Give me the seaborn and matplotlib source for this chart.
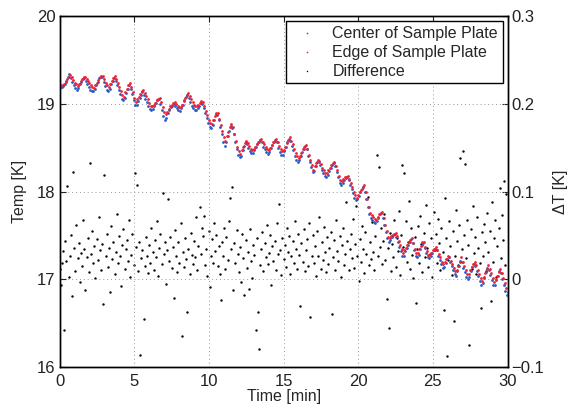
import numpy as np
import pandas as pd
import matplotlib
matplotlib.use("Agg")
import matplotlib.pyplot as plt
import seaborn as sns

# Nhiệt độ mép tấm mẫu (mỗi 0.1 phút, 0 -> 30 phút)
edge_temp = [
    19.20, 19.21, 19.21, 19.22, 19.25, 19.28, 19.31, 19.33, 19.30, 19.27,
    19.24, 19.22, 19.20, 19.23, 19.26, 19.28, 19.30, 19.31, 19.28, 19.26,
    19.24, 19.21, 19.19, 19.18, 19.21, 19.24, 19.27, 19.30, 19.32, 19.32,
    19.28, 19.24, 19.21, 19.19, 19.23, 19.26, 19.29, 19.32, 19.28, 19.24,
    19.19, 19.14, 19.10, 19.08, 19.13, 19.17, 19.21, 19.24, 19.19, 19.13,
    19.07, 19.02, 19.05, 19.08, 19.11, 19.14, 19.16, 19.12, 19.09, 19.05,
    19.01, 18.98, 18.97, 18.99, 19.01, 19.04, 19.06, 19.07, 19.02, 18.96,
    18.91, 18.88, 18.91, 18.94, 18.97, 18.99, 19.01, 19.02, 19.00, 18.98,
    18.96, 18.96, 18.99, 19.03, 19.07, 19.10, 19.12, 19.09, 19.05, 19.02,
    18.99, 18.97, 18.97, 18.99, 19.01, 19.03, 19.02, 18.97, 18.92, 18.87,
    18.82, 18.78, 18.77, 18.82, 18.86, 18.89, 18.89, 18.83, 18.76, 18.69,
    18.62, 18.58, 18.63, 18.68, 18.73, 18.77, 18.73, 18.66, 18.58, 18.51,
    18.46, 18.43, 18.47, 18.51, 18.55, 18.58, 18.55, 18.52, 18.49, 18.47,
    18.48, 18.51, 18.54, 18.57, 18.59, 18.60, 18.57, 18.54, 18.51, 18.48,
    18.47, 18.50, 18.53, 18.56, 18.58, 18.60, 18.56, 18.52, 18.48, 18.46,
    18.47, 18.51, 18.55, 18.59, 18.62, 18.58, 18.54, 18.49, 18.44, 18.40,
    18.38, 18.41, 18.44, 18.48, 18.51, 18.53, 18.48, 18.42, 18.36, 18.30,
    18.25, 18.29, 18.33, 18.36, 18.35, 18.31, 18.27, 18.24, 18.21, 18.21,
    18.24, 18.27, 18.30, 18.32, 18.34, 18.29, 18.24, 18.18, 18.13, 18.12,
    18.14, 18.16, 18.17, 18.18, 18.14, 18.10, 18.05, 18.00, 17.96, 17.93,
    17.96, 17.99, 18.02, 18.05, 18.07, 18.00, 17.91, 17.82, 17.75, 17.73,
    17.71, 17.69, 17.68, 17.71, 17.74, 17.76, 17.77, 17.70, 17.62, 17.55,
    17.48, 17.47, 17.49, 17.51, 17.52, 17.53, 17.49, 17.44, 17.39, 17.34,
    17.30, 17.33, 17.36, 17.39, 17.42, 17.45, 17.47, 17.41, 17.35, 17.30,
    17.30, 17.34, 17.38, 17.42, 17.42, 17.37, 17.32, 17.28, 17.28, 17.30,
    17.33, 17.35, 17.37, 17.33, 17.29, 17.25, 17.20, 17.17, 17.20, 17.23,
    17.26, 17.25, 17.21, 17.17, 17.13, 17.09, 17.10, 17.15, 17.20, 17.25,
    17.20, 17.15, 17.10, 17.06, 17.06, 17.10, 17.14, 17.17, 17.20, 17.16,
    17.11, 17.06, 17.01, 16.98, 17.03, 17.07, 17.12, 17.16, 17.12, 17.07,
    17.02, 16.97, 17.00, 17.04, 17.08, 17.12, 17.07, 17.01, 16.96, 16.90,
    16.85,
]

# Nhiệt độ tâm tấm mẫu (mỗi 0.1 phút, lệch 0.05 phút)
center_temp = [
    19.18, 19.19, 19.20, 19.22, 19.26, 19.30, 19.34, 19.29, 19.25, 19.21,
    19.18, 19.16, 19.18, 19.22, 19.25, 19.28, 19.29, 19.26, 19.22, 19.19,
    19.16, 19.15, 19.14, 19.17, 19.21, 19.25, 19.29, 19.31, 19.30, 19.25,
    19.20, 19.16, 19.14, 19.17, 19.22, 19.26, 19.29, 19.26, 19.21, 19.16,
    19.11, 19.06, 19.04, 19.07, 19.12, 19.17, 19.21, 19.17, 19.11, 19.04,
    18.99, 18.99, 19.03, 19.07, 19.10, 19.13, 19.10, 19.06, 19.02, 18.98,
    18.94, 18.93, 18.94, 18.98, 19.01, 19.04, 19.05, 19.00, 18.93, 18.86,
    18.81, 18.84, 18.89, 18.93, 18.96, 18.98, 19.00, 18.98, 18.95, 18.93,
    18.92, 18.95, 18.99, 19.04, 19.08, 19.10, 19.07, 19.02, 18.98, 18.95,
    18.93, 18.93, 18.95, 18.98, 19.01, 19.00, 18.95, 18.89, 18.84, 18.78,
    18.74, 18.72, 18.76, 18.82, 18.88, 18.87, 18.81, 18.74, 18.66, 18.57,
    18.52, 18.56, 18.63, 18.69, 18.75, 18.72, 18.65, 18.56, 18.48, 18.42,
    18.39, 18.41, 18.47, 18.52, 18.56, 18.54, 18.50, 18.46, 18.44, 18.44,
    18.47, 18.51, 18.54, 18.57, 18.59, 18.56, 18.51, 18.48, 18.45, 18.43,
    18.45, 18.50, 18.53, 18.56, 18.59, 18.56, 18.50, 18.45, 18.42, 18.42,
    18.46, 18.51, 18.56, 18.60, 18.58, 18.52, 18.47, 18.41, 18.36, 18.34,
    18.36, 18.40, 18.45, 18.49, 18.52, 18.48, 18.40, 18.34, 18.28, 18.22,
    18.23, 18.29, 18.34, 18.34, 18.30, 18.25, 18.21, 18.18, 18.17, 18.19,
    18.23, 18.27, 18.30, 18.32, 18.29, 18.22, 18.16, 18.10, 18.08, 18.10,
    18.13, 18.15, 18.17, 18.13, 18.08, 18.03, 17.98, 17.93, 17.90, 17.91,
    17.95, 17.99, 18.03, 18.05, 18.00, 17.91, 17.82, 17.74, 17.70, 17.67,
    17.65, 17.64, 17.66, 17.70, 17.74, 17.76, 17.70, 17.62, 17.54, 17.47,
    17.43, 17.45, 17.48, 17.50, 17.52, 17.48, 17.42, 17.37, 17.32, 17.27,
    17.27, 17.32, 17.36, 17.39, 17.43, 17.46, 17.41, 17.33, 17.27, 17.25,
    17.28, 17.34, 17.39, 17.41, 17.36, 17.30, 17.25, 17.24, 17.26, 17.30,
    17.33, 17.35, 17.33, 17.27, 17.22, 17.17, 17.13, 17.14, 17.19, 17.23,
    17.25, 17.20, 17.15, 17.10, 17.06, 17.04, 17.09, 17.15, 17.21, 17.20,
    17.13, 17.08, 17.03, 17.00, 17.03, 17.09, 17.14, 17.17, 17.15, 17.09,
    17.04, 16.98, 16.94, 16.96, 17.02, 17.08, 17.13, 17.11, 17.05, 16.99,
    16.94, 16.94, 16.99, 17.04, 17.09, 17.07, 17.00, 16.93, 16.87, 16.82,
]

# Chênh lệch nhiệt độ (trục phải), mỗi 0.075 phút
diff_temp = [
    0.012, -0.006, 0.018, 0.032, -0.058, 0.044, 0.021, 0.106, 0.003, 0.027,
    0.051, -0.019, 0.122, 0.036, 0.009, 0.062, 0.024, 0.041, -0.003, 0.030,
    0.015, 0.068, 0.034, -0.012, 0.025, 0.047, 0.008, 0.132, 0.029, 0.055,
    0.019, 0.038, 0.001, 0.046, 0.022, 0.071, 0.033, 0.011, 0.040, -0.028,
    0.119, 0.027, 0.052, 0.014, 0.036, -0.015, 0.061, 0.023, 0.043, 0.006,
    0.031, 0.074, 0.018, 0.049, 0.026, -0.008, 0.039, 0.057, 0.012, 0.034,
    0.045, 0.021, 0.068, 0.003, 0.028, 0.052, 0.016, 0.121, 0.037, 0.108,
    0.009, 0.042, -0.086, 0.024, 0.033, -0.045, 0.015, 0.048, 0.026, 0.007,
    0.039, 0.019, 0.058, 0.031, 0.011, 0.045, 0.025, 0.066, 0.004, 0.036,
    0.052, 0.017, 0.098, 0.029, 0.043, -0.005, 0.033, 0.091, 0.021, 0.048,
    0.013, 0.037, -0.021, 0.056, 0.026, 0.008, 0.042, 0.019, 0.064, -0.065,
    0.031, 0.014, 0.047, 0.023, -0.037, 0.035, 0.006, 0.053, 0.028, 0.017,
    0.044, 0.025, 0.071, 0.011, 0.038, 0.082, 0.029, 0.059, 0.049, 0.072,
    0.016, 0.035, 0.004, 0.055, -0.009, 0.027, 0.046, 0.019, 0.064, 0.032,
    0.051, 0.015, 0.038, 0.006, -0.024, 0.043, 0.027, 0.059, 0.012, 0.048,
    0.022, 0.066, 0.093, 0.034, 0.105, -0.012, 0.041, 0.018, 0.056, 0.029,
    0.008, 0.037, -0.003, 0.052, 0.024, -0.018, 0.045, 0.013, 0.031, -0.011,
    0.057, 0.021, 0.002, 0.039, 0.028, -0.058, 0.047, -0.037, -0.080, 0.016,
    0.034, 0.054, 0.009, 0.041, 0.025, 0.062, 0.017, 0.030, 0.050, -0.006,
    0.038, 0.021, 0.044, 0.010, 0.064, 0.029, 0.086, 0.033, 0.005, 0.047,
    0.023, 0.039, 0.014, 0.058, 0.031, 0.049, 0.006, 0.026, 0.044, 0.018,
    0.066, 0.035, 0.012, 0.052, 0.028, -0.030, 0.041, 0.020, 0.057, 0.009,
    0.033, 0.046, 0.015, 0.064, -0.043, 0.027, 0.051, 0.019, 0.038, 0.004,
    0.055, 0.026, 0.071, 0.012, 0.043, 0.022, 0.060, 0.031, 0.008, 0.048,
    0.017, 0.036, 0.054, -0.040, 0.025, 0.045, 0.011, 0.067, 0.032, 0.021,
    0.049, 0.003, 0.039, 0.058, 0.016, 0.029, 0.088, 0.044, 0.010, 0.034,
    0.052, 0.024, 0.069, 0.013, 0.040, 0.083, 0.027, -0.002, 0.046, 0.020,
    0.061, 0.035, 0.007, 0.054, 0.029, 0.094, 0.016, 0.042, 0.023, 0.065,
    0.031, 0.011, 0.049, 0.142, 0.026, 0.128, 0.037, 0.058, 0.017, 0.044,
    0.074, 0.022, -0.022, 0.036, -0.056, 0.053, 0.009, 0.040, 0.025, 0.068,
    0.014, 0.047, 0.032, 0.078, 0.005, 0.051, 0.130, 0.037, 0.121, 0.066,
    0.020, 0.043, 0.089, 0.012, 0.058, 0.028, 0.002, 0.048, -0.027, 0.034,
    0.061, 0.019, 0.072, 0.040, 0.008, 0.053, 0.025, 0.085, 0.036, 0.014,
    0.064, 0.029, 0.047, 0.003, 0.077, 0.033, 0.052, 0.018, 0.069, 0.041,
    0.011, 0.058, 0.031, -0.035, 0.093, 0.047, -0.088, 0.022, 0.066, 0.038,
    0.005, 0.055, -0.047, 0.027, 0.079, 0.044, 0.016, 0.062, 0.138, 0.034,
    0.146, 0.051, 0.131, 0.024, 0.068, 0.039, -0.075, 0.057, 0.012, 0.083,
    0.030, 0.048, 0.006, 0.071, 0.036, 0.019, -0.033, 0.054, 0.026, 0.063,
    0.042, 0.009, 0.076, 0.031, 0.055, -0.025, 0.088, 0.020, 0.047, 0.067,
    0.003, 0.038, 0.058, 0.104, 0.024, 0.073, 0.045, 0.112, 0.016, 0.097,
]

x_ticks = [0, 5, 10, 15, 20, 25, 30]
temp_ticks = [16, 17, 18, 19, 20]
dt_ticks = [-0.1, 0, 0.1, 0.2, 0.3]
dt_tick_labels = ["\u22120.1", "0", "0.1", "0.2", "0.3"]

# Trục thời gian (lưới lấy mẫu đều)
t_edge = np.round(np.arange(len(edge_temp)) * 0.1, 3)
t_center = np.round(np.arange(len(center_temp)) * 0.1 + 0.05, 3)
t_diff = np.round(np.arange(len(diff_temp)) * 0.075, 3)

df_edge = pd.DataFrame({"time": t_edge, "temp": edge_temp})
df_center = pd.DataFrame({"time": t_center, "temp": center_temp})
df_diff = pd.DataFrame({"time": t_diff, "dT": diff_temp})

sns.set_style("white")
plt.rcParams["font.family"] = ["Liberation Sans", "DejaVu Sans"]

fig, ax = plt.subplots(figsize=(5.68, 4.11), dpi=100)
fig.subplots_adjust(left=0.105, right=0.8935, bottom=0.107, top=0.961)
ax2 = ax.twinx()

blue = "#2a5cc4"
red = "#ee2233"

# Chênh lệch vẽ ở trục phải, nằm dưới các đường nhiệt độ
sns.scatterplot(data=df_diff, x="time", y="dT", ax=ax2, color="black",
                s=3, linewidth=0, marker="o", label="Difference", legend=False)
sns.scatterplot(data=df_center, x="time", y="temp", ax=ax, color=blue,
                s=4, linewidth=0, marker="o", label="Center of Sample Plate", legend=False)
sns.scatterplot(data=df_edge, x="time", y="temp", ax=ax, color=red,
                s=4, linewidth=0, marker="o", label="Edge of Sample Plate", legend=False)

ax.set_zorder(ax2.get_zorder() + 1)
ax.patch.set_visible(False)

ax.set_xlim(0, 30)
ax.set_ylim(16, 20)
ax2.set_ylim(-0.1, 0.3)
ax.set_xticks(x_ticks)
ax.set_yticks(temp_ticks)
ax2.set_yticks(dt_ticks)
ax2.set_yticklabels(dt_tick_labels)

ax.grid(True, linestyle=(0, (1, 3)), color="#9a9a9a", linewidth=0.7)
ax2.grid(False)

for a in (ax, ax2):
    for sp in a.spines.values():
        sp.set_visible(True)
        sp.set_color("black")
        sp.set_linewidth(1.0)
ax.tick_params(axis="both", direction="in", length=4, width=0.8, labelsize=12,
               colors="#222222", top=True, right=False, pad=3)
ax.tick_params(axis="x", pad=5)
ax2.tick_params(axis="y", direction="in", length=4, width=0.8, labelsize=12,
                colors="#222222", pad=3)

ax.set_xlabel("Time [min]", fontsize=11.5, labelpad=0)
ax.set_ylabel("Temp [K]", fontsize=11.5, labelpad=7)
ax2.set_ylabel("\u0394T [K]", fontsize=11.5, labelpad=6)

h1, l1 = ax.get_legend_handles_labels()
h2, l2 = ax2.get_legend_handles_labels()
leg = ax.legend(h1 + h2, l1 + l2, loc="upper right", fontsize=11.5,
                frameon=True, fancybox=False, framealpha=1, edgecolor="black",
                borderaxespad=0.3, handletextpad=0.6, labelspacing=0.25,
                borderpad=0.3, markerscale=0.6)
leg.get_frame().set_linewidth(1.0)

plt.savefig("out.png", dpi=100)
